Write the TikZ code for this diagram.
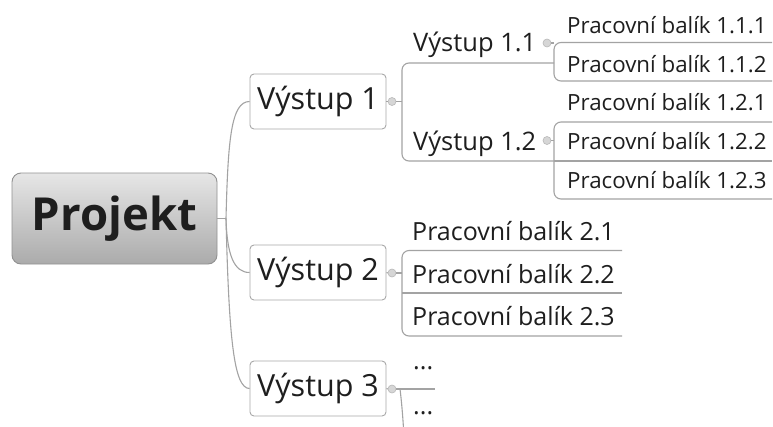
\documentclass[tikz,border=0pt]{standalone}
\usepackage{fontspec}
\setmainfont{Open Sans}
\usetikzlibrary{calc}
\definecolor{linec}{HTML}{A3A3A3}
\definecolor{txt}{HTML}{1E1E1E}
\definecolor{boxc}{HTML}{A8A8A8}
\definecolor{dotf}{HTML}{D6D6D6}
\definecolor{dotd}{HTML}{B8B8B8}
\definecolor{projtop}{HTML}{E6E6E6}
\definecolor{projbot}{HTML}{ABABAB}
\begin{document}
\begin{tikzpicture}[x=1pt,y=-1pt,
  conn/.style={draw=linec, line width=1.1pt},
  brk/.style={conn, rounded corners=7pt},
  vbox/.style={draw=boxc, fill=white, rounded corners=4pt, line width=0.9pt,
    minimum width=136pt, minimum height=55pt, inner sep=0pt, text=txt,
    font=\fontsize{30.5}{36}\selectfont},
  subt/.style={anchor=base west, inner sep=0pt, text=txt, font=\fontsize{25.5}{30}\selectfont},
  wpa/.style={anchor=base west, inner sep=0pt, text=txt, font=\fontsize{22.3}{26}\selectfont},
  wpb/.style={anchor=base west, inner sep=0pt, text=txt, font=\fontsize{25}{30}\selectfont},
  knob/.style={circle, draw=dotd, fill=dotf, line width=0.6pt, minimum size=8pt, inner sep=0pt},
]
\useasboundingbox (0,0) rectangle (773,426);
\fill[white] (0,0) rectangle (773,426);

% root
\node[draw=projbot!85!black, rounded corners=9pt, top color=projtop, bottom color=projbot,
  line width=0.9pt, minimum width=205pt, minimum height=91pt, inner sep=0pt, text=txt,
  font=\fontsize{45.5}{50}\selectfont\bfseries] (pj) at (114.5,218.5) {Projekt};

% main topics
\node[vbox] (v1) at (318,101.5) {Výstup 1};
\node[vbox] (v2) at (318,272.5) {Výstup 2};
\node[vbox] (v3) at (318,388.5) {Výstup 3};

% knobs
\node[knob] (k1) at (392,101.5) {};
\node[knob] (k2) at (392,273) {};
\node[knob] (k3) at (392,389) {};
\node[knob] (k11) at (547,43) {};
\node[knob] (k12) at (547,140.5) {};

% subtopic texts
\node[subt] (s11) at (413,51) {Výstup 1.1};
\node[subt] (s12) at (413,150) {Výstup 1.2};

\node[wpa] (p111) at (567,33) {Pracovní balík 1.1.1};
\node[wpa] (p112) at (567,72) {Pracovní balík 1.1.2};
\node[wpa] (p121) at (567,110.5) {Pracovní balík 1.2.1};
\node[wpa] (p122) at (567,149) {Pracovní balík 1.2.2};
\node[wpa] (p123) at (567,188) {Pracovní balík 1.2.3};

\node[wpb] (p21) at (412,240.5) {Pracovní balík 2.1};
\node[wpb] (p22) at (412,283) {Pracovní balík 2.2};
\node[wpb] (p23) at (412,325.5) {Pracovní balík 2.3};

\node[wpb] (d31) at (413,369) {...};
\node[wpb] (d32) at (413,414) {...};

% coordinates of lines
\coordinate (hub) at (226,218.5);
\coordinate (b1) at (402,101.5);
\coordinate (e11) at (554,63);
\coordinate (e12) at (554,161);
\coordinate (e111) at (772,42.5);
\coordinate (e112) at (772,81);
\coordinate (e121) at (772,122);
\coordinate (e122) at (772,161);
\coordinate (e123) at (772,199);
\coordinate (b2) at (402,273);
\coordinate (e21) at (622,250.5);
\coordinate (e22) at (622,293);
\coordinate (e23) at (622,336);
\coordinate (b3) at (400,389);
\coordinate (e31) at (435,389);
\coordinate (e32) at (460,436);

% root connectors
\draw[conn] (pj.east) -- (hub);
\draw[conn] (hub) .. controls (228,140) and (231,101.5) .. (v1.west);
\draw[conn] (hub) .. controls (227,255) and (234,272.5) .. (v2.west);
\draw[conn] (hub) .. controls (229,340) and (234,388.5) .. (v3.west);

% main topic to knob
\draw[conn] (v1.east) -- (k1.west);
\draw[conn] (v2.east) -- (k2.west);
\draw[conn] (v3.east) -- (k3.west);

% Výstup 1 branch
\draw[conn] (k1.east) -- (b1);
\draw[brk] (e11) -| (b1) |- (e12);

% Výstup 1.1 children
\draw[conn] (k11.east) -- (k11.east -| e11);
\draw[brk] (e111) -| (e11) |- (e112);

% Výstup 1.2 children
\draw[conn] (k12.east) -- (k12.east -| e12);
\draw[brk] (e121) -| (e12) |- (e123);
\draw[conn] (e12) -- (e122);

% Výstup 2 children
\draw[conn] (k2.east) -- (b2);
\draw[brk] (e21) -| (b2) |- (e23);
\draw[conn] (b2 |- e22) -- (e22);

% Výstup 3 children
\draw[conn] (k3.east) -- (e31);
\draw[conn] (b3) .. controls (402,405) and (403,420) .. (404,436);
\end{tikzpicture}
\end{document}
